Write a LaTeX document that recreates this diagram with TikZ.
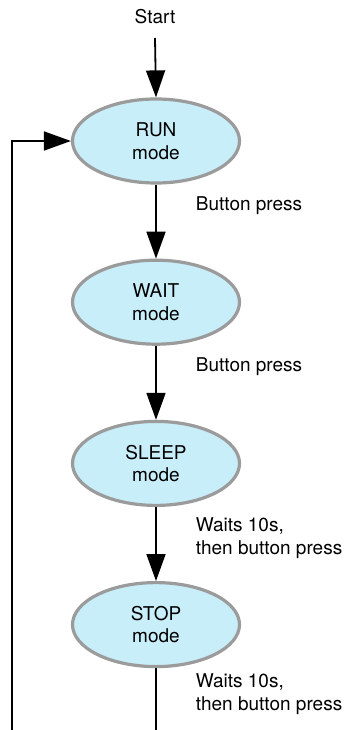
\documentclass[tikz,border=0pt]{standalone}
\usepackage{fontspec}
\setmainfont{TeX Gyre Heros}
\usepackage{tikz}
\usetikzlibrary{positioning, arrows.meta, shapes.geometric}
\usepackage{xcolor}
\definecolor{modeFill}{RGB}{200, 238, 250}
\definecolor{modeEdge}{RGB}{155, 155, 155}

\begin{document}
\begin{tikzpicture}[x=1pt, y=1pt, >={Triangle[length=27pt, width=19pt]},
    font=\fontsize{19}{22.5}\selectfont, node distance=74pt,
    modeellipse/.style={ellipse, draw=modeEdge, line width=3.2pt, fill=modeFill,
      minimum width=167pt, minimum height=84pt, align=center, inner sep=0pt},
    flow/.style={->, line width=1.8pt},
    cond/.style={anchor=west, align=left, inner sep=0pt, xshift=39pt}]
  \useasboundingbox (0,0) rectangle (345,-730);
  \node[inner sep=0pt] (start) at (155,-17) {Start};
  \node[modeellipse] (run) at (156,-141) {RUN\\mode};
  \node[modeellipse, below=of run] (wait) {WAIT\\mode};
  \node[modeellipse, below=of wait] (sleep) {SLEEP\\mode};
  \node[modeellipse, below=of sleep] (stop) {STOP\\mode};
  \coordinate (stopend) at (156,-730);
  \coordinate (loopend) at (12,-730);
  \draw[flow] (start.south |- 0,-38) -- (run.north);
  \draw[flow] (run) -- (wait)
    node[pos=0.28, cond]{Button press};
  \draw[flow] (wait) -- (sleep)
    node[pos=0.28, cond]{Button press};
  \draw[flow] (sleep) -- (stop)
    node[pos=0.42, cond]{Waits 10s,\\then button press};
  \draw[line width=1.8pt] (stop) -- (stopend)
    node[pos=0.42, cond]{Waits 10s,\\then button press};
  \draw[flow] (loopend) |- (run.west);
\end{tikzpicture}
\end{document}
